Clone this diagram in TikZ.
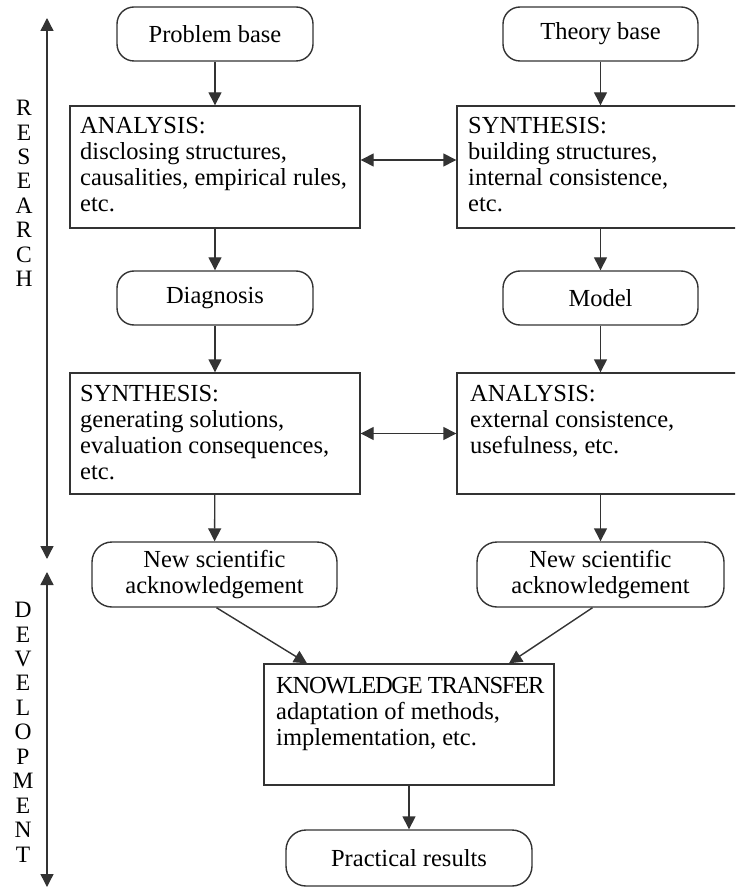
\documentclass[tikz,border=0pt]{standalone}
\usepackage{fontspec}
\setmainfont{Liberation Serif}
\usetikzlibrary{arrows.meta}
\begin{document}
\begin{tikzpicture}[x=1pt,y=-1pt,
  every node/.style={font=\fontsize{24.5}{26}\selectfont, text=black},
  ln/.style={draw=black!80, line width=1.4pt},
  rbox/.style={ln, rounded corners=17pt, inner sep=0pt, align=center},
  sbox/.style={ln, rectangle, inner sep=0pt},
  txt/.style={inner sep=0pt, align=left, anchor=north west},
  vtxt/.style={inner sep=0pt, align=center, anchor=north, font=\fontsize{23.5}{24.45}\selectfont},
  arr/.style={ln, -{Triangle[length=13pt,width=13pt]}},
  darr/.style={ln, {Triangle[length=13pt,width=13pt]}-{Triangle[length=13pt,width=13pt]}}]
\useasboundingbox (0,0) rectangle (735,890);
\clip (0,0) rectangle (735,890);
% rounded boxes
\node[rbox, minimum width=196pt, minimum height=54pt] (PB) at (215,34) {Problem base};
\node[rbox, minimum width=195pt, minimum height=54pt] (TB) at (600.5,34) {Theory base};
\node[rbox, minimum width=196pt, minimum height=54pt] (DG) at (215,298) {Diagnosis};
\node[rbox, minimum width=195pt, minimum height=54pt] (MD) at (600.5,298) {Model};
\node[rbox, rounded corners=20pt, minimum width=245pt, minimum height=65pt] (AL) at (214.5,574.5) {New scientific\\acknowledgement};
\node[rbox, rounded corners=20pt, minimum width=247pt, minimum height=65pt] (AR) at (600.5,574.5) {New scientific\\acknowledgement};
\node[rbox, rounded corners=20pt, minimum width=246pt, minimum height=56pt] (PR) at (409,858) {Practical results};
% rectangles
\node[sbox, minimum width=290pt, minimum height=122pt] (L1) at (215,167) {};
\node[sbox, minimum width=287pt, minimum height=122pt] (R1) at (600.5,167) {};
\node[sbox, minimum width=290pt, minimum height=121pt] (L2) at (215,433.5) {};
\node[sbox, minimum width=287pt, minimum height=121pt] (R2) at (600.5,433.5) {};
\node[sbox, minimum width=290pt, minimum height=121pt] (KT) at (409,724.5) {};
% texts
\node[txt] (L1t) at (80,117) {ANALYSIS:\\disclosing structures,\\causalities, empirical rules,\\etc.};
\node[txt] (R1t) at (468,117) {SYNTHESIS:\\building structures,\\internal consistence,\\etc.};
\node[txt] (L2t) at (80,385) {SYNTHESIS:\\generating solutions,\\evaluation consequences,\\etc.};
\node[txt] (R2t) at (470,385) {ANALYSIS:\\external consistence,\\usefulness, etc.};
\node[txt] (KTt) at (276,677) {{\addfontfeature{LetterSpace=-5.0}KNOWLEDGE TRANSFER}\\adaptation of methods,\\implementation, etc.};
% side labels
\node[vtxt] (res) at (24,100) {R\\E\\S\\E\\A\\R\\C\\H};
\node[vtxt] (dev) at (23,602) {D\\E\\V\\E\\L\\O\\P\\M\\E\\N\\T};
\coordinate (r1) at (47,18);
\coordinate (r2) at (47,559);
\coordinate (d1) at (47,572);
\coordinate (d2) at (47,887);
\draw[darr] (r1) -- (r2);
\draw[darr] (d1) -- (d2);
% connectors
\draw[arr] (PB) -- (L1);
\draw[arr] (TB) -- (R1);
\draw[darr] ([yshift=7pt]L1.east) -- ([yshift=7pt]R1.west);
\draw[arr] (L1) -- (DG);
\draw[arr] (MD.north |- R1.south) -- (MD);
\draw[arr] (DG) -- (L2);
\draw[arr] (MD) -- (R2);
\draw[darr] (L2) -- (R2);
\draw[arr] (L2) -- (AL);
\draw[arr] (R2) -- (AR);
\draw[arr] ([xshift=2pt]AL.south) -- ([xshift=-102pt]KT.north);
\draw[arr] ([xshift=-8pt]AR.south) -- ([xshift=100pt]KT.north);
\draw[arr] (KT) -- (PR);
\end{tikzpicture}
\end{document}
